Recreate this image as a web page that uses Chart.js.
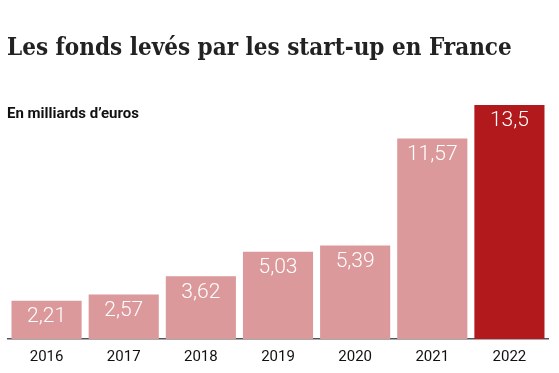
<!DOCTYPE html>
<html>
<head>
<meta charset="utf-8">
<script src="https://cdn.jsdelivr.net/npm/chart.js@4"></script>
<style>
  html, body { margin: 0; padding: 0; background: #fff; }
  #wrap { width: 559px; height: 373px; position: relative; }
</style>
</head>
<body>
<div id="wrap"><canvas id="c" width="559" height="373"></canvas></div>
<script>
const years = ["2016", "2017", "2018", "2019", "2020", "2021", "2022"];
const fonds = [2.21, 2.57, 3.62, 5.03, 5.39, 11.57, 13.5];
const labels = ["2,21", "2,57", "3,62", "5,03", "5,39", "11,57", "13,5"];
const titleText = "Les fonds levés par les start-up en France";
const subtitleText = "En milliards d’euros";

const lightColor = "#dc999b";
const darkColor = "#b2191c";
const barColors = years.map((y, i) => i === years.length - 1 ? darkColor : lightColor);

function fitFont(ctx, text, weight, family, target) {
  let size = 26;
  ctx.font = `${weight} ${size}px ${family}`;
  const w = ctx.measureText(text).width;
  size = size * target / w;
  ctx.font = `${weight} ${size}px ${family}`;
  return size;
}

const textPlugin = {
  id: "texts",
  afterDraw(chart) {
    const ctx = chart.ctx;
    ctx.save();
    // title
    fitFont(ctx, titleText, "bold", '"DejaVu Serif Condensed", "DejaVu Serif", serif', 505);
    ctx.fillStyle = "#222";
    ctx.textBaseline = "alphabetic";
    ctx.textAlign = "left";
    ctx.fillText(titleText, 7, 55);
    // subtitle
    ctx.font = `bold 15px Roboto, "Liberation Sans", sans-serif`;
    ctx.fillStyle = "#111";
    ctx.textBaseline = "middle";
    ctx.fillText(subtitleText, 7, 114);
    // value labels
    const meta = chart.getDatasetMeta(0);
    ctx.font = `300 21px Roboto, sans-serif`;
    ctx.fillStyle = "#fff";
    ctx.textAlign = "center";
    ctx.textBaseline = "middle";
    meta.data.forEach((bar, i) => {
      ctx.fillText(labels[i], bar.x, bar.y + 16);
    });
    ctx.restore();
  }
};

new Chart(document.getElementById("c"), {
  type: "bar",
  data: {
    labels: years,
    datasets: [{
      data: fonds,
      backgroundColor: barColors,
      borderWidth: 0,
      barPercentage: 1,
      categoryPercentage: 70 / 77
    }]
  },
  options: {
    responsive: false,
    animation: false,
    devicePixelRatio: 1,
    layout: { padding: { top: 105, left: 8, right: 11, bottom: 0 } },
    plugins: { legend: { display: false }, tooltip: { enabled: false }, title: { display: false } },
    scales: {
      x: {
        grid: { display: false, tickLength: 2 },
        border: { display: true, color: "#555", width: 1.5 },
        ticks: { color: "#111", font: { family: "Roboto", size: 15 }, padding: 7 }
      },
      y: {
        display: false,
        min: 0,
        max: 13.5
      }
    }
  },
  plugins: [textPlugin]
});
</script>
</body>
</html>
